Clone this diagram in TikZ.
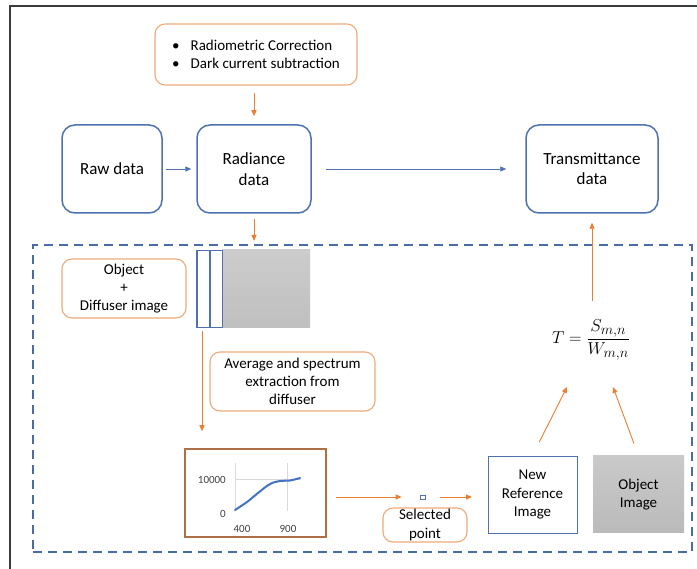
\documentclass[tikz,border=0pt]{standalone}
\usepackage{fontspec}
\setmainfont{Carlito}
\usetikzlibrary{arrows.meta,calc}
\definecolor{myblue}{RGB}{79,113,176}
\definecolor{dblue}{RGB}{72,108,165}
\definecolor{myorange}{RGB}{237,125,49}
\definecolor{orbord}{RGB}{238,170,120}
\definecolor{chartbrd}{RGB}{176,112,70}
\definecolor{curveblue}{RGB}{68,114,196}
\definecolor{gridgray}{RGB}{217,217,217}
\definecolor{framegray}{RGB}{60,60,60}
\begin{document}
\begin{tikzpicture}[x=1pt,y=-1pt,
  bluebox/.style={draw=myblue, line width=1.5pt, rounded corners=13pt, align=center,
    font=\fontsize{17}{20.4}\selectfont, inner sep=0pt},
  orbox/.style={draw=orbord, line width=1.1pt, rounded corners=10pt, align=center,
    font=\fontsize{15}{18.3}\selectfont, inner sep=0pt},
  oarrow/.style={draw=myorange, line width=0.9pt, -{Triangle[length=6pt,width=5pt]}},
  barrow/.style={draw=myblue, line width=0.9pt, -{Triangle[length=6pt,width=5pt]}},
  chartlbl/.style={font=\fontsize{11}{13}\selectfont, text=black!75, inner sep=0pt}
]
\useasboundingbox (0,0) rectangle (697,569);
\fill[white] (0,0) rectangle (697,569);
% frame
\draw[framegray, line width=1.2pt] (10,569) -- (10,6) -- (697,6);

% top bullet box
\node[orbox, minimum width=202pt, minimum height=61pt, align=left] (corr) at (256,54.5)
  {\textbullet\hspace{11pt}Radiometric Correction\\ \textbullet\hspace{11pt}Dark current subtraction};

% main boxes
\node[bluebox, minimum width=100pt, minimum height=88pt] (raw) at (112,169) {Raw data};
\node[bluebox, minimum width=114pt, minimum height=88pt] (rad) at (254,169) {Radiance\\data};
\node[bluebox, minimum width=132pt, minimum height=88pt] (trans) at (592,169) {Transmittance\\data};

\draw[oarrow, shorten <=7pt, shorten >=8pt] (corr.south -| rad.north) -- (rad.north);
\draw[barrow, shorten <=3pt, shorten >=5pt] (raw.east) -- (rad.west);
\draw[barrow, shorten <=14pt, shorten >=19pt] (rad.east) -- (trans.west);

% dashed region
\node[draw=dblue, line width=2.2pt, dash pattern=on 9pt off 6pt, minimum width=659pt,
  minimum height=307pt, inner sep=0pt] (dbox) at (362.5,398.5) {};
\coordinate (radin) at (254,241);
\draw[oarrow, shorten <=5pt] (rad.south) -- (radin);

% object + diffuser
\node[orbox, minimum width=124pt, minimum height=59pt] (objdiff) at (124,288.5) {Object\\+\\Diffuser image};

% strips
\node[fill=black!22, minimum width=88pt, minimum height=78pt, inner sep=0pt] (gray) at (266,289) {};
\shade[top color=black!20, bottom color=black!25] (222,250) rectangle (310,328);
\node[draw=myblue, fill=white, line width=0.8pt, minimum width=12pt, minimum height=77pt, inner sep=0pt] (strip2) at (216,289) {};
\node[draw=myblue, fill=white, line width=1.8pt, minimum width=13pt, minimum height=77pt, inner sep=0pt] (strip1) at (203.5,289) {};

% average box
\node[orbox, minimum width=165pt, minimum height=59pt] (avg) at (292.5,381.5) {Average and spectrum\\extraction from\\diffuser};

% chart
\node[draw=chartbrd, line width=1.5pt, minimum width=141pt, minimum height=88pt, inner sep=0pt] (chart) at (255.5,493) {};
\draw[oarrow, shorten <=3pt, shorten >=17pt] ([xshift=-1.5pt]strip1.south) -- ([xshift=-1.5pt]strip1.south |- chart.north);
\draw[gridgray, line width=0.8pt] (235,479) -- (301,479);
\draw[gridgray, line width=0.8pt] (287,463) -- (287,511);
\draw[gridgray, line width=0.8pt] (235,463) -- (235,511);
\draw[curveblue, line width=2pt, line cap=round, line join=round]
  plot[smooth, tension=0.6] coordinates {(235,510) (247,502) (258,493) (270,484) (280,481) (290,480.5) (300,478)};
\node[chartlbl, anchor=east] (l10k) at (226,480) {10000};
\node[chartlbl, anchor=east] (l0) at (226,514) {0};
\node[chartlbl] (l400) at (242,529) {400};
\node[chartlbl] (l900) at (288,529) {900};

% selected point
\node[draw=myblue, line width=0.7pt, minimum width=5pt, minimum height=4pt, inner sep=0pt] (pt) at (422.5,497) {};
\node[orbox, minimum width=84pt, minimum height=34pt] (sel) at (425,525) {Selected\\point};
\draw[oarrow, shorten <=9pt, shorten >=18pt] (chart.east |- pt) -- (pt.west);
\draw[oarrow, shorten <=15pt, shorten >=16pt] (pt.east) -- (pt.east -| 488,0);

% new reference and object image
\node[draw=myblue, line width=0.9pt, minimum width=89pt, minimum height=77pt, inner sep=0pt,
  align=center, font=\fontsize{15}{18.3}\selectfont] (newref) at (532.5,494.5) {New\\Reference\\Image};
\shade[top color=black!21, bottom color=black!27] (593,456) rectangle (684,533);
\node[minimum width=91pt, minimum height=77pt, inner sep=0pt, align=center,
  font=\fontsize{15}{18.3}\selectfont] (objimg) at (638.5,494.5) {Object\\Image};

% formula
\node[font=\fontsize{19}{23}\selectfont, inner sep=0pt] (formula) at (591,340)
  {$\displaystyle T=\frac{S_{m,n}}{W_{m,n}}$};
\coordinate (fa) at (567,387);
\coordinate (fb) at (613,387);
\coordinate (ft) at (592,301);
\draw[oarrow, shorten <=15pt] (newref.north) -- (fa);
\draw[oarrow, shorten <=13pt] (objimg.north) -- (fb);
\draw[oarrow, shorten >=9pt] (ft) -- (trans.south);
\end{tikzpicture}
\end{document}
